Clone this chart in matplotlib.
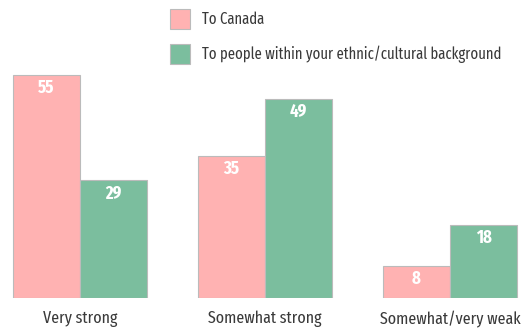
import matplotlib.pyplot as plt
from matplotlib.patches import Rectangle
import numpy as np

categories = ['Very strong', 'Somewhat strong', 'Somewhat/very weak']
to_canada = [55, 35, 8]
to_ethnic = [29, 49, 18]
series_names = ['To Canada', 'To people within your ethnic/cultural background']

pink = '#FFB2B2'
green = '#7BBE9E'
edge = '#BBBBBB'
plt.rcParams['font.family'] = ['Fira Sans Extra Condensed', 'DejaVu Sans']

fig = plt.figure(figsize=(5.28, 3.30), dpi=100)
ax = fig.add_axes([0, 32 / 330, 1, 298 / 330])

x = np.arange(len(categories))
w = 67 / 185
b1 = ax.bar(x - w / 2, to_canada, w, color=pink, edgecolor=edge, linewidth=0.8)
b2 = ax.bar(x + w / 2, to_ethnic, w, color=green, edgecolor=edge, linewidth=0.8)

for bars in (b1, b2):
    for r in bars:
        h = r.get_height()
        ax.annotate(str(int(h)), (r.get_x() + r.get_width() / 2, h),
                    xytext=(0, -13), textcoords='offset pixels',
                    ha='center', va='center', color='white',
                    fontsize=13, fontweight='bold')

ax.set_xlim(-80 / 185, 448 / 185)
ax.set_ylim(0, 298 / 4.055)
ax.axis('off')

for i, c in enumerate(categories):
    ax.annotate(c, (x[i], 0), xytext=(0, -21), textcoords='offset pixels',
                ha='center', va='center', fontsize=12.5, color='#3a3a3a')

# legend
for j, (name, col) in enumerate(zip(series_names, [pink, green])):
    ytop = 9 + 35 * j
    fig.patches.append(Rectangle((170 / 528, 1 - (ytop + 20) / 330), 20 / 528, 20 / 330,
                                 transform=fig.transFigure, facecolor=col,
                                 edgecolor=edge, linewidth=0.8))
    fig.text(202 / 528, 1 - (ytop + 10) / 330, name, ha='left', va='center',
             fontsize=11.5, color='#3a3a3a')

fig.savefig('out.png', dpi=100)
